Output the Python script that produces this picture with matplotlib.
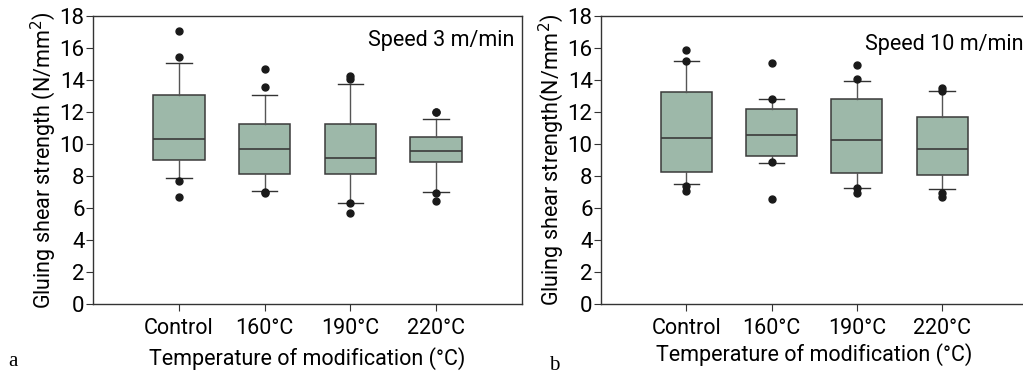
import matplotlib.pyplot as plt

plt.rcParams['font.family'] = ['Roboto', 'DejaVu Sans']

groups = ['Control', '160°C', '190°C', '220°C']

# speed 3 m/min
a_whislo = [7.88, 7.07, 6.35, 7.01]
a_q1 = [8.99, 8.14, 8.14, 8.87]
a_med = [10.33, 9.68, 9.14, 9.56]
a_q3 = [13.10, 11.26, 11.26, 10.43]
a_whishi = [15.06, 13.04, 13.73, 11.60]
a_fliers = [[17.06, 15.46, 7.68, 6.68],
            [14.71, 13.56, 7.00, 6.95],
            [14.25, 14.08, 6.30, 5.72],
            [12.02, 11.98, 6.95, 6.47]]

# speed 10 m/min
b_whislo = [7.50, 8.83, 7.23, 7.19]
b_q1 = [8.27, 9.23, 8.21, 8.10]
b_med = [10.37, 10.60, 10.27, 9.71]
b_q3 = [13.25, 12.19, 12.85, 11.71]
b_whishi = [15.17, 12.81, 13.94, 13.30]
b_fliers = [[15.90, 15.20, 7.37, 7.10],
            [15.04, 12.85, 8.87, 6.54],
            [14.96, 14.10, 7.23, 6.92],
            [13.50, 13.33, 6.92, 6.67]]


def draw_panel(ax, whislo, q1, med, q3, whishi, fliers, ylabel, note, note_xy, xlabelpad):
    stats = []
    for i in range(len(groups)):
        stats.append(dict(whislo=whislo[i], q1=q1[i], med=med[i], q3=q3[i],
                          whishi=whishi[i], fliers=fliers[i], label=groups[i]))
    ax.bxp(stats, positions=[1, 2, 3, 4], widths=0.6, patch_artist=True,
           boxprops=dict(facecolor='#9db8a9', edgecolor='#3a3a3a', linewidth=1.1),
           medianprops=dict(color='#3a3a3a', linewidth=1.2),
           whiskerprops=dict(color='#555555', linewidth=1.0),
           capprops=dict(color='#333333', linewidth=1.0),
           capwidths=0.3,
           flierprops=dict(marker='o', markerfacecolor='#1a1a1a', markeredgecolor='#1a1a1a',
                           markersize=5))
    ax.set_xlim(0, 5)
    ax.set_ylim(0, 18)
    ax.set_yticks(range(0, 19, 2))
    ax.tick_params(axis='y', labelsize=16, length=5, color='#333333', pad=1)
    ax.tick_params(axis='x', labelsize=15.5, length=5, color='#333333', pad=5)
    ax.set_ylabel(ylabel, fontsize=15.5, labelpad=1)
    ax.set_xlabel('Temperature of modification (°C)', fontsize=15.5, labelpad=xlabelpad)
    for s in ax.spines.values():
        s.set_color('#333333')
        s.set_linewidth(1.0)
    ax.text(note_xy[0], note_xy[1], note, fontsize=15.5, va='center', ha='left')


fig = plt.figure(figsize=(10.23, 3.75), dpi=100)
ax1 = fig.add_axes([0.0909, 0.189, 0.4194, 0.768])
ax2 = fig.add_axes([0.5875, 0.189, 0.4169, 0.768])

draw_panel(ax1, a_whislo, a_q1, a_med, a_q3, a_whishi, a_fliers,
           'Gluing shear strength (N/mm$^2$)', 'Speed 3 m/min', (3.2, 16.5), 6)
draw_panel(ax2, b_whislo, b_q1, b_med, b_q3, b_whishi, b_fliers,
           'Gluing shear strength(N/mm$^2$)', 'Speed 10 m/min', (3.1, 16.2), 3)

fig.text(0.008, 0.025, 'a', fontsize=15, family='Liberation Serif')
fig.text(0.537, 0.012, 'b', fontsize=15, family='Liberation Serif')

plt.savefig('out.png', dpi=100)
